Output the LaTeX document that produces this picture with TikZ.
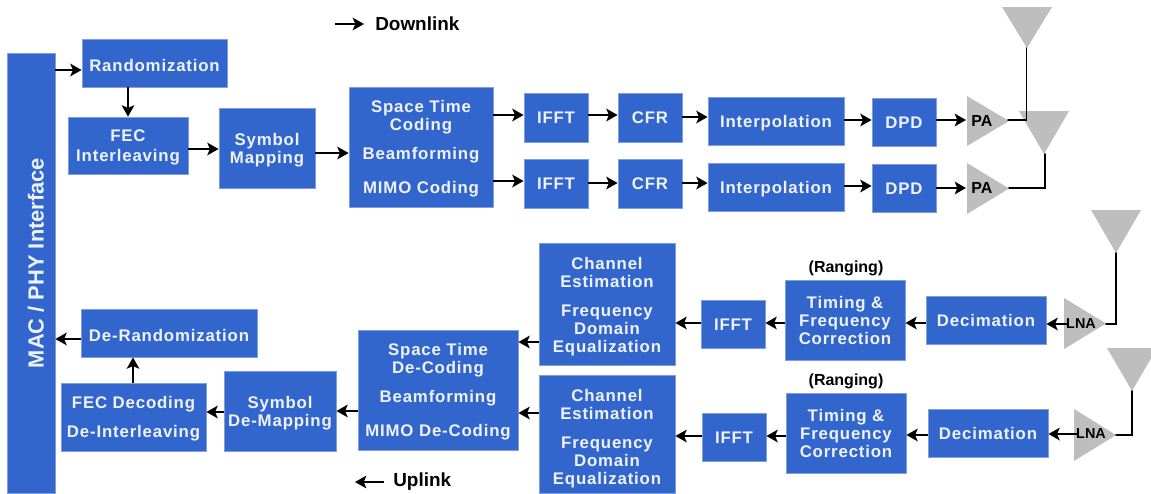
\documentclass[tikz,border=0pt]{standalone}
\usepackage{fontspec}
\setmainfont{Liberation Sans}
\newfontfamily\boxfont[LetterSpace=5]{Liberation Sans Bold}
\newfontfamily\plainbold{Liberation Sans Bold}
\usetikzlibrary{arrows.meta}
\definecolor{boxblue}{HTML}{3366CC}
\definecolor{boxedge}{HTML}{7F9FE0}
\definecolor{boxtext}{HTML}{EEF2FC}
\definecolor{antgrey}{HTML}{BEBEBE}
\tikzset{
  x=0.75pt,y=-0.75pt,
  blk/.style={draw=boxedge,line width=0.6pt,fill=boxblue,text=boxtext,inner sep=0pt,align=center,
    font=\boxfont\fontsize{12.6pt}{13.5pt}\selectfont},
  conn/.style={line width=1.2pt,-{Stealth[length=8.5pt,width=9.5pt,inset=2pt]}},
  wire/.style={line width=1.2pt,line cap=round,line join=miter},
  ampl/.style={inner sep=0pt,font=\plainbold\fontsize{12pt}{13pt}\selectfont,text=black},
  legend/.style={inner sep=0pt,anchor=west,font=\plainbold\fontsize{14.2pt}{15pt}\selectfont},
  rang/.style={inner sep=0pt,font=\plainbold\fontsize{12pt}{13pt}\selectfont},
}
\newcommand{\bx}[6]{\node[blk,minimum width={(#4-#2)*0.75pt},minimum height={(#5-#3)*0.75pt}] (#1) at ({(#2+#4)/2},{(#3+#5)/2}) {\rule{0pt}{12.3pt}#6\rule[-2.7pt]{0pt}{0pt}};}
\newcommand{\ant}[3]{\fill[antgrey] (#1,#2) -- ({#1+50},#2) -- ({#1+25},#3) -- cycle;}
\newcommand{\amp}[3]{\fill[antgrey] (#1,#2) -- ({#1+42},{(#2+#3)/2}) -- (#1,#3) -- cycle;}
\begin{document}
\begin{tikzpicture}
\useasboundingbox (0,0) rectangle (1151,493);
\fill[white] (0,0) rectangle (1151,493);
% blocks
\node[blk,minimum width=36pt,minimum height=330pt] (mac) at (31,273) {};
\node[inner sep=0pt,rotate=90,text=boxtext,font=\plainbold\fontsize{16.4pt}{18pt}\selectfont] (maclabel) at (36,263) {MAC / PHY Interface};
\bx{rand}{82}{39}{227}{87}{\rule{0pt}{15pt}Randomization}
\bx{fec}{68}{117}{188}{174}{FEC\\[1.5pt]Interleaving}
\bx{sym}{219}{108}{315}{188}{Symbol\\Mapping}
\bx{stc}{349}{87}{493}{207}{Space Time\\Coding\\[8.2pt]Beamforming\\[12pt]MIMO Coding}
\bx{ifa}{524}{93}{588}{142}{IFFT}
\bx{cfa}{618}{93}{682}{142}{CFR}
\bx{ina}{708}{97}{844}{145}{Interpolation}
\bx{dpa}{872}{98}{936}{146}{DPD}
\bx{ifb}{524}{159}{588}{208}{IFFT}
\bx{cfb}{618}{159}{682}{208}{CFR}
\bx{inb}{708}{163}{844}{211}{Interpolation}
\bx{dpb}{872}{164}{936}{212}{DPD}
\bx{dca}{926}{296}{1046}{344}{Decimation}
\bx{dcb}{928}{409}{1048}{457}{Decimation}
\bx{tma}{785}{280}{905}{360}{Timing \&\\Frequency\\Correction}
\bx{tmb}{786}{393}{906}{473}{Timing \&\\Frequency\\Correction}
\bx{fia}{701}{300}{765}{348}{IFFT}
\bx{fib}{702}{413}{766}{461}{IFFT}
\bx{cha}{539}{243}{675}{365}{\rule{0pt}{13.5pt}Channel\\Estimation\\[8.2pt]Frequency\\Domain\\Equalization}
\bx{chb}{539}{375}{675}{493}{\rule{0pt}{16pt}Channel\\Estimation\\[8.2pt]Frequency\\Domain\\Equalization}
\bx{std}{358}{330}{518}{450}{Space Time\\De-Coding\\[8.2pt]Beamforming\\[12pt]MIMO De-Coding}
\bx{syd}{224}{371}{336}{451}{Symbol\\De-Mapping}
\bx{fed}{61}{383}{206}{451}{FEC Decoding\\[8.2pt]De-Interleaving}
\bx{der}{81}{309}{257}{357}{\rule{0pt}{15pt}De-Randomization}
% antennas and amplifiers
\ant{1002}{7}{48}
\ant{1019}{111}{154}
\ant{1091}{210}{253}
\ant{1107}{348}{391}
\amp{967}{96}{146}
\amp{967}{163}{214}
\amp{1064}{298}{349}
\amp{1074}{409}{461}
\coordinate (anta) at (1026.5,48);
\coordinate (antb) at (1045,154);
\coordinate (antc) at (1116,253);
\coordinate (antd) at (1132,391);
\node[ampl] (paa) at (982,121) {PA};
\node[ampl] (pab) at (982,188) {PA};
\node[ampl,font=\plainbold\fontsize{10.8pt}{12pt}\selectfont] (lna) at (1081,324) {LNA};
\node[ampl,font=\plainbold\fontsize{10.8pt}{12pt}\selectfont] (lnb) at (1091,434) {LNA};
\coordinate (paao) at (1008,120);
\coordinate (pabo) at (1009,188);
\coordinate (lnao) at (1106,324);
\coordinate (lnbo) at (1116,435);
\draw[wire] (anta) -- (anta |- paao) -- (paao);
\draw[wire] (antb) -- (antb |- pabo) -- (pabo);
\draw[wire] (antc) -- (antc |- lnao) -- (lnao);
\draw[wire] (antd) -- (antd |- lnbo) -- (lnbo);
% downlink
\draw[conn] (mac.east |- 0,70) -- (rand.west |- 0,70);
\draw[conn] (rand.south -| 128,0) -- (fec.north -| 128,0);
\draw[conn] (fec.east |- 0,149) -- (sym.west |- 0,149);
\draw[conn] (sym.east |- 0,153) -- (stc.west |- 0,153);
\draw[conn] (stc.east |- 0,115) -- (ifa.west |- 0,115);
\draw[conn] (stc.east |- 0,181) -- (ifb.west |- 0,181);
\draw[conn] (ifa.east |- 0,115) -- (cfa.west |- 0,115);
\draw[conn] (ifb.east |- 0,183) -- (cfb.west |- 0,183);
\draw[conn] (cfa.east |- 0,117) -- (ina.west |- 0,117);
\draw[conn] (cfb.east |- 0,183) -- (inb.west |- 0,183);
\draw[conn] (ina.east |- 0,120) -- (dpa.west |- 0,120);
\draw[conn] (inb.east |- 0,186) -- (dpb.west |- 0,186);
\draw[conn] (dpa.east |- 0,120) -- (966,120);
\draw[conn] (dpb.east |- 0,188) -- (966,188);
% uplink
\draw[conn] (1068,324) -- (dca.east |- 0,324);
\draw[conn] (1078,434) -- (dcb.east |- 0,434);
\draw[conn] (dca.west |- 0,323) -- (tma.east |- 0,323);
\draw[conn] (dcb.west |- 0,435) -- (tmb.east |- 0,435);
\draw[conn] (tma.west |- 0,323) -- (fia.east |- 0,323);
\draw[conn] (tmb.west |- 0,436) -- (fib.east |- 0,436);
\draw[conn] (fia.west |- 0,323) -- (cha.east |- 0,323);
\draw[conn] (fib.west |- 0,436) -- (chb.east |- 0,436);
\draw[conn] (cha.west |- 0,342) -- (std.east |- 0,342);
\draw[conn] (chb.west |- 0,413) -- (std.east |- 0,413);
\draw[conn] (std.west |- 0,411) -- (syd.east |- 0,411);
\draw[conn] (syd.west |- 0,412) -- (fed.east |- 0,412);
\draw[conn] (fed.north -| 133,0) -- (der.south -| 133,0);
\draw[conn] (der.west |- 0,339) -- (mac.east |- 0,339);
% legend
\coordinate (dla) at (335,24);
\coordinate (dlb) at (364,24);
\draw[conn] (dla) -- (dlb);
\node[legend] (dltext) at (375,24) {Downlink};
\coordinate (ula) at (384,482);
\coordinate (ulb) at (355,482);
\draw[conn] (ula) -- (ulb);
\node[legend] (ultext) at (393,482) {Uplink};
\node[rang] (ranga) at (846,268) {(Ranging)};
\node[rang] (rangb) at (846,381) {(Ranging)};
\end{tikzpicture}
\end{document}
